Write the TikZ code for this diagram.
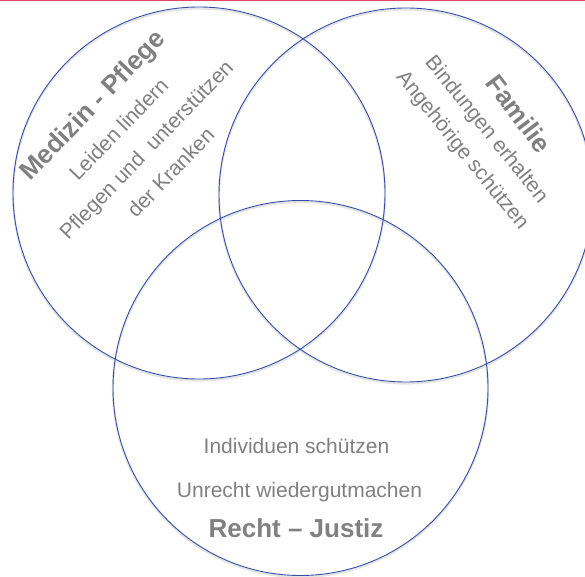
\documentclass[tikz,border=0pt]{standalone}
\usepackage{fontspec}
\setmainfont{Liberation Sans}
\definecolor{circblue}{RGB}{52,78,168}
\definecolor{txtgray}{RGB}{128,128,128}
\definecolor{topline}{RGB}{228,68,100}
\begin{document}
\begin{tikzpicture}[x=1pt,y=1pt,
  ring/.style={draw=circblue,line width=0.9pt},
  ringshadow/.style={draw=black!10,line width=2.2pt},
  reg/.style={text=txtgray,inner sep=0pt,font=\fontsize{21}{25}\selectfont},
  bld/.style={text=txtgray,inner sep=0pt,font=\fontsize{26}{30}\selectfont\bfseries}]
\useasboundingbox (0,0) rectangle (585,576);
\clip (0,0) rectangle (585,576);
\fill[white] (0,0) rectangle (585,576);
\fill[topline] (0,574.5) rectangle (585,576);
% shadows
\draw[ringshadow] (199,381.5) circle (186);
\draw[ringshadow] (406,379.5) circle (187);
\draw[ringshadow] (300.5,186.5) circle (187.5);
% circles
\draw[ring] (199,383) circle (186);
\draw[ring] (406,381) circle (187);
\draw[ring] (300.5,188) circle (187.5);
% left texts
\node[bld,rotate=46] (med) at (94,469.5) {Medizin - Pflege};
\node[reg,rotate=46] (lei) at (118.5,447) {Leiden lindern};
\node[reg,rotate=46] (pfl) at (147.5,425) {Pflegen und\ \ unterstützen};
\node[reg,rotate=46] (kra) at (170.5,403.5) {der Kranken};
% right texts
\node[bld,rotate=-53] (fam) at (519,462.5) {Familie};
\node[reg,rotate=-51] (bin) at (486,446) {Bindungen erhalten};
\node[reg,rotate=-51] (ang) at (462,425) {Angehörige schützen};
% bottom texts
\node[reg,anchor=base] (ind) at (296.5,123) {Individuen schützen};
\node[reg,anchor=base] (unr) at (299.5,79) {Unrecht wiedergutmachen};
\node[bld,anchor=base] (rec) at (296,39) {Recht – Justiz};
\end{tikzpicture}
\end{document}
